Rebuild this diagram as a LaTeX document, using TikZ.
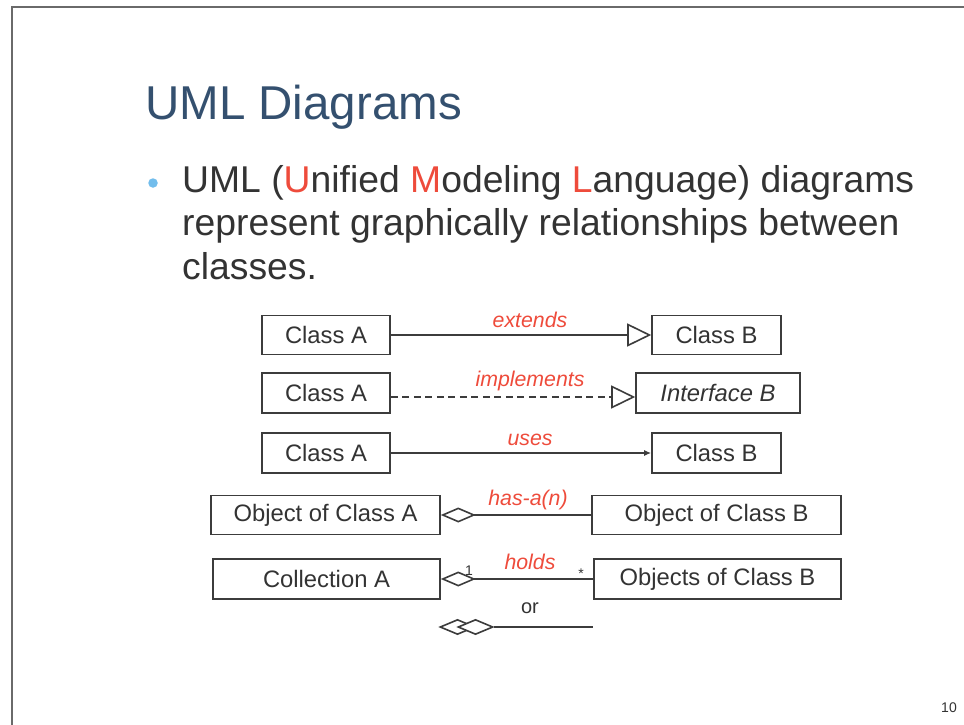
\documentclass[tikz,border=0pt]{standalone}
\usepackage{fontspec}
\setmainfont{Liberation Sans}
\usetikzlibrary{arrows.meta,shapes.geometric}
\definecolor{titleblue}{HTML}{34506F}
\definecolor{accentred}{HTML}{EE4B3B}
\definecolor{bulletblue}{HTML}{72BDEC}
\definecolor{ink}{HTML}{333333}
\definecolor{framegray}{HTML}{6A6A6A}
\definecolor{boxgray}{HTML}{3C3C3C}
\newcommand{\redinitial}[1]{\textcolor{accentred}{#1}}

\begin{document}
\begin{tikzpicture}[x=1pt,y=-1pt,
  classbox/.style={draw=boxgray, line width=1.6pt, minimum height=39pt,
    inner sep=0pt, font=\fontsize{23.8}{28}\selectfont, text=ink},
  conn/.style={draw=boxgray, line width=1.6pt},
  rel/.style={font=\fontsize{21.3}{25}\selectfont\itshape, text=accentred,
    anchor=base, inner sep=0pt},
  mult/.style={font=\fontsize{14}{16}\selectfont, text=ink, anchor=base, inner sep=0pt},
  bodyline/.style={anchor=base west, inner sep=0pt, text=ink,
    font=\fontsize{37.3}{44}\selectfont},
  aggr/.style={diamond, draw=boxgray, line width=1.6pt, fill=white,
    minimum width=35pt, minimum height=15pt, inner sep=0pt},
]
\useasboundingbox (0,0) rectangle (964,725);

% slide frame
\draw[framegray, line width=2pt] (11.5,725) -- (11.5,7.5) -- (964,7.5);

% title and bullet text
\node[anchor=base west, inner sep=0pt, text=titleblue,
  font=\fontsize{47.5}{57}\selectfont] (title) at (145,119) {UML Diagrams};
\node[circle, fill=bulletblue, minimum size=9.5pt, inner sep=0pt] (bullet) at (153,183) {};
\node[bodyline] (line1) at (182,192)
  {UML (\redinitial{U}nified \redinitial{M}odeling \redinitial{L}anguage) diagrams};
\node[bodyline] (line2) at (182,235.5) {represent graphically relationships between};
\node[bodyline] (line3) at (182,279) {classes.};

% extends
\node[classbox, minimum width=128pt] (A1) at (326,335) {Class A};
\node[classbox, minimum width=129pt] (B1) at (716.5,335) {Class B};
\draw[conn, -{Triangle[open, length=24pt, width=23pt]}] (A1) -- (B1);
\node[rel] (l1) at (530,327) {extends};

% implements
\node[classbox, minimum width=128pt, minimum height=40pt] (A2) at (326,393) {Class A};
\node[classbox, minimum width=164pt, minimum height=40pt] (IB) at (718,393) {\itshape Interface B};
\draw[conn, dash pattern=on 7pt off 4.5pt, -{Triangle[open, length=24pt, width=23pt]}]
  ([yshift=-4pt]A2.east) -- ([yshift=-4pt]IB.west);
\node[rel] (l2) at (530,386) {implements};

% uses
\node[classbox, minimum width=128pt, minimum height=40pt] (A3) at (326,453) {Class A};
\node[classbox, minimum width=129pt, minimum height=40pt] (B3) at (716.5,453) {Class B};
\draw[conn, -{Latex[length=7pt, width=6pt]}] (A3) -- (B3);
\node[rel] (l3) at (530,445) {uses};

% has-a(n)
\node[classbox, minimum width=229pt] (OA) at (325.5,515) {Object of Class A};
\node[classbox, minimum width=249pt] (OB) at (716.5,515) {Object of Class B};
\draw[conn, {Diamond[open, length=35pt, width=15pt]}-] (OA) -- (OB);
\node[rel] (l4) at (528,505) {has-a(n)};

% holds
\node[classbox, minimum width=227pt, minimum height=40pt] (CA) at (326.5,579) {Collection A};
\node[classbox, minimum width=247pt, minimum height=40pt] (CB) at (717.5,579) {Objects of Class B};
\draw[conn, {Diamond[open, length=35pt, width=15pt]}-] (CA) -- (CB);
\node[rel] (l5) at (530,569) {holds};
\node[mult] (one) at (469,575) {1};
\node[mult] (many) at (581,578) {*};

% alternative notation
\node[font=\fontsize{20}{24}\selectfont, text=ink, anchor=base, inner sep=0pt] (or) at (530,613) {or};
\node[aggr] (d1) at (457.5,627) {};
\node[aggr] (d2) at (475.5,627) {};
\coordinate (orEnd) at (593,627);
\draw[conn] (d2.east) -- (orEnd);

% page number
\node[font=\fontsize{14}{16}\selectfont, text=ink, anchor=base east, inner sep=0pt] (pagenum) at (957,712) {10};
\end{tikzpicture}
\end{document}
